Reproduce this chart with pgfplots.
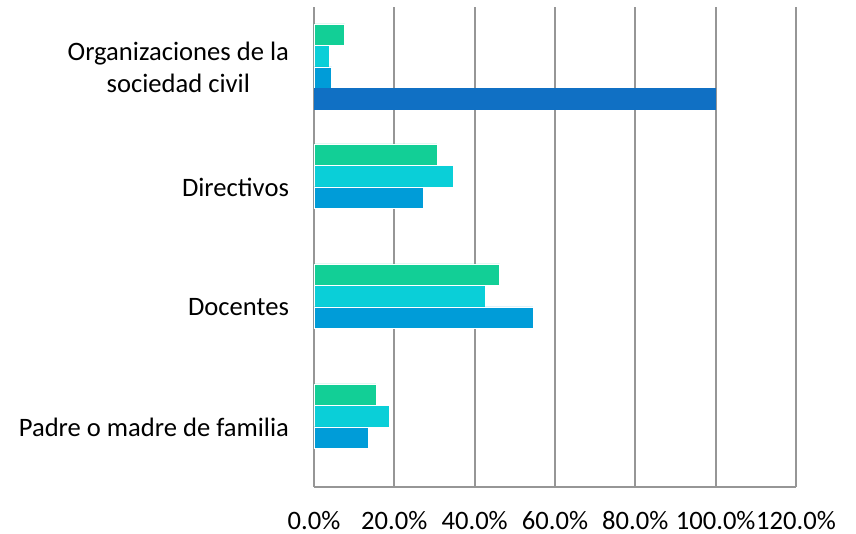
\documentclass[border=0pt]{standalone}
\usepackage{pgfplots}
\pgfplotsset{compat=1.18}
\usepackage{fontspec}
\setmainfont{Carlito}
\definecolor{cgreen}{HTML}{12CF96}
\definecolor{ccyan}{HTML}{0ACFD8}
\definecolor{cblue}{HTML}{009CD8}
\definecolor{cdark}{HTML}{1070C4}
\definecolor{gridgray}{HTML}{969696}
\begin{document}
\begin{tikzpicture}
\begin{axis}[
  scale only axis,
  width=241pt, height=240pt,
  xmin=0, xmax=120, ymin=-0.5, ymax=3.5,
  xbar, bar width=10.75pt,
  axis line style={draw=none},
  xmajorgrids, major grid style={gridgray, line width=0.9pt},
  xtick={0,20,40,60,80,100,120},
  xticklabels={0.0\%,20.0\%,40.0\%,60.0\%,80.0\%,100.0\%,120.0\%},
  ytick={0,1,2,3},
  yticklabels={Padre o madre de familia, Docentes, Directivos, {Organizaciones de la\\sociedad civil}},
  yticklabel style={align=center, font=\fontsize{13.3}{16}\selectfont, xshift=-9pt},
  xticklabel style={font=\fontsize{13.3}{16}\selectfont, yshift=-8.5pt},
  major tick length=0pt,
  clip=false,
]
\addplot[fill=cgreen, draw=white, line width=0.3pt, bar shift=16.125pt] coordinates {(15.4,0) (46.2,1) (30.6,2) (7.6,3)};
\addplot[fill=ccyan, draw=white, line width=0.3pt, bar shift=5.375pt] coordinates {(18.8,0) (42.6,1) (34.6,2) (3.8,3)};
\addplot[fill=cblue, draw=white, line width=0.3pt, bar shift=-5.375pt] coordinates {(13.5,0) (54.5,1) (27.1,2) (4.4,3)};
\addplot[fill=cdark, draw=none, bar shift=-16.125pt] coordinates {(100,3)};
\draw[gridgray, line width=0.9pt] (rel axis cs:0,0) -- (rel axis cs:1,0);
\coordinate (bl) at (rel axis cs:0,0);
\coordinate (tr) at (rel axis cs:1,1);
\end{axis}
\pgfresetboundingbox
\path ([shift={(-157pt,-23.5pt)}]bl) rectangle ([shift={(30pt,3.5pt)}]tr);
\end{tikzpicture}
\end{document}
